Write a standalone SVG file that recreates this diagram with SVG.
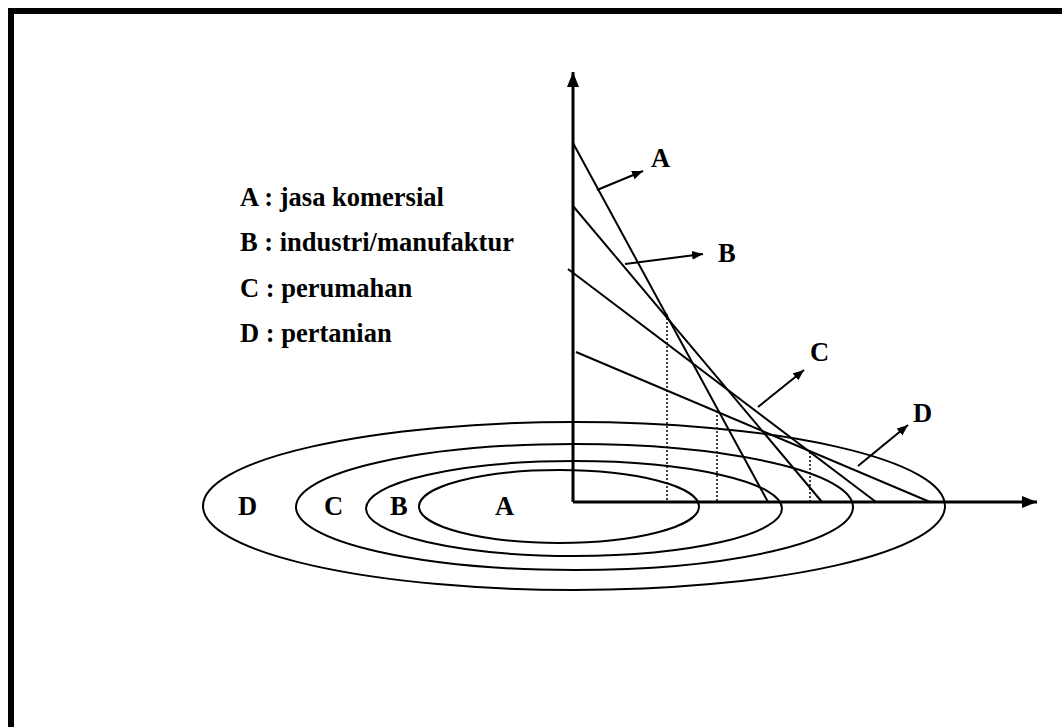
<svg xmlns="http://www.w3.org/2000/svg" width="1062" height="727" viewBox="0 0 1062 727">
<style>
.t{font-family:"Liberation Serif","Times New Roman",serif;font-weight:bold;font-size:26.5px;fill:#000}
.e{fill:none;stroke:#000;stroke-width:2}
.ln{fill:none;stroke:#000;stroke-width:2}
.ax{fill:none;stroke:#000;stroke-width:3}
.dt{fill:none;stroke:#000;stroke-width:1.5;stroke-dasharray:2 2}
</style>
<defs>
<marker id="ah" markerUnits="userSpaceOnUse" markerWidth="16" markerHeight="14" refX="15" refY="6" orient="auto">
<path d="M0,0 L15,6 L0,12 Z" fill="#000"/>
</marker>
<marker id="sh" markerUnits="userSpaceOnUse" markerWidth="12" markerHeight="10" refX="11" refY="4.5" orient="auto">
<path d="M0,0 L11,4.5 L0,9 Z" fill="#000"/>
</marker>
</defs>
<rect x="0" y="0" width="1062" height="727" fill="#fff"/>
<rect x="11" y="11" width="1100" height="800" fill="none" stroke="#000" stroke-width="6"/>
<g id="legend">
<text class="t" x="240" y="206">A : jasa komersial</text>
<text class="t" x="240" y="251">B : industri/manufaktur</text>
<text class="t" x="240" y="297">C : perumahan</text>
<text class="t" x="240" y="342">D : pertanian</text>
</g>
<g id="zones">
<ellipse id="zoneD" class="e" cx="574" cy="506" rx="371" ry="84"/>
<ellipse id="zoneC" class="e" cx="574.5" cy="507" rx="278.5" ry="63"/>
<ellipse id="zoneB" class="e" cx="574" cy="508.5" rx="208" ry="47.5"/>
<ellipse id="zoneA" class="e" cx="559" cy="506.5" rx="140" ry="36.5"/>
<text class="t" x="238" y="515">D</text>
<text class="t" x="324" y="515">C</text>
<text class="t" x="390" y="515">B</text>
<text class="t" x="495" y="515">A</text>
</g>
<g id="connectors">
<line class="ax" x1="573" y1="502" x2="573" y2="72" marker-end="url(#ah)"/>
<line class="ax" x1="573" y1="502" x2="1037" y2="502" marker-end="url(#ah)"/>
<line class="ln" x1="573" y1="143" x2="768" y2="502"/>
<line class="ln" x1="573" y1="206" x2="822" y2="502"/>
<line class="ln" x1="568" y1="269" x2="876" y2="502"/>
<line class="ln" x1="576" y1="352" x2="930" y2="502"/>
<line class="dt" x1="667" y1="314" x2="667" y2="502"/>
<line class="dt" x1="717" y1="411" x2="717" y2="502"/>
<line class="dt" x1="810" y1="452" x2="810" y2="502"/>
<line class="ln" x1="597" y1="190" x2="643" y2="171" marker-end="url(#sh)"/>
<line class="ln" x1="625" y1="264" x2="703" y2="254" marker-end="url(#sh)"/>
<line class="ln" x1="758" y1="407" x2="804" y2="370" marker-end="url(#sh)"/>
<line class="ln" x1="858" y1="466" x2="908" y2="425" marker-end="url(#sh)"/>
</g>
<g id="labels">
<text class="t" x="651" y="167">A</text>
<text class="t" x="718" y="262">B</text>
<text class="t" x="810" y="361">C</text>
<text class="t" x="913" y="422">D</text>
</g>
</svg>
